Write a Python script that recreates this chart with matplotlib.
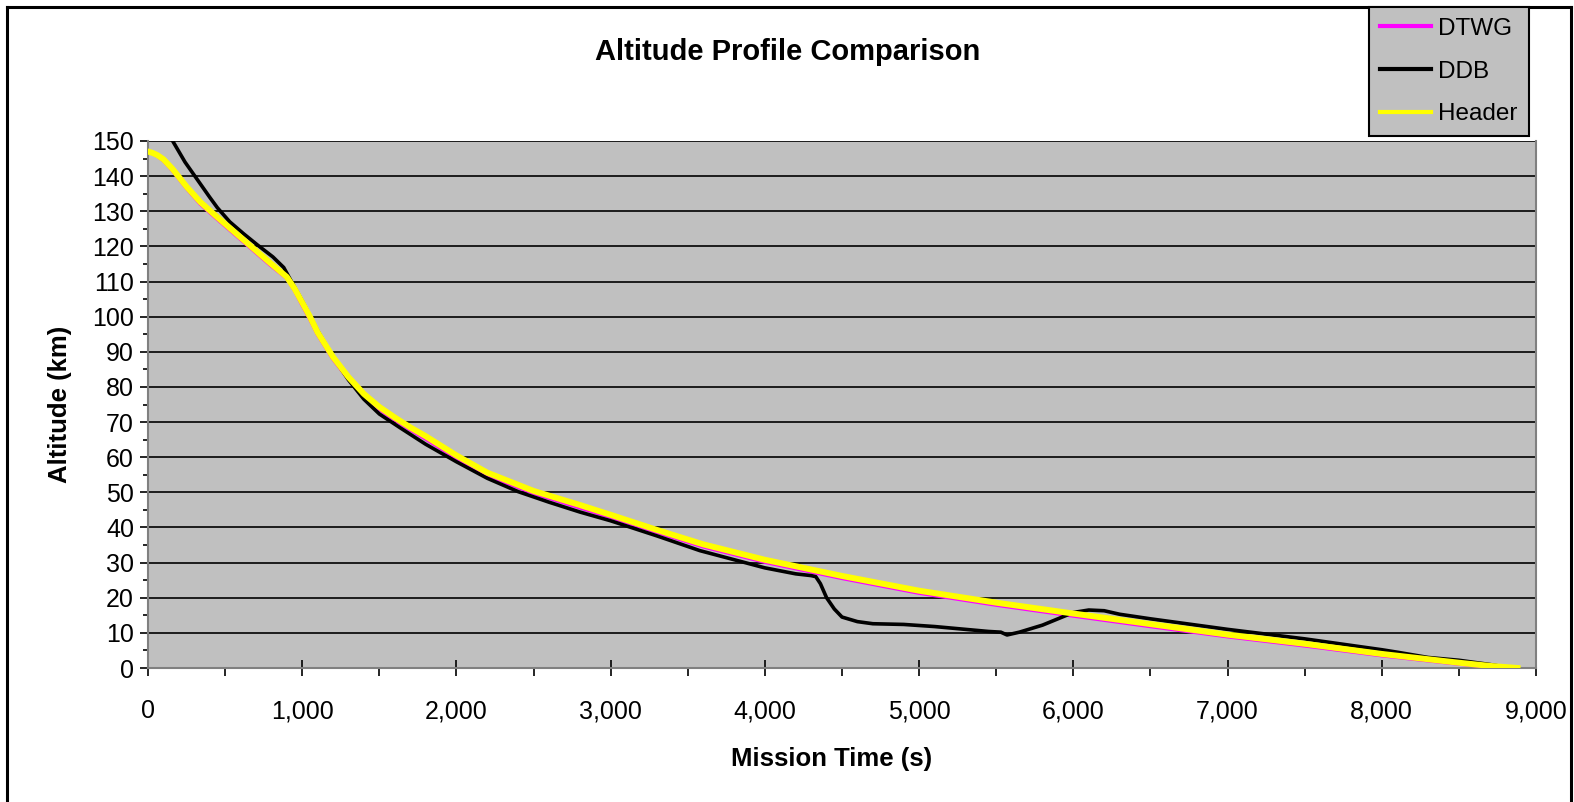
import matplotlib
matplotlib.use("Agg")
import matplotlib.pyplot as plt
from matplotlib.ticker import MultipleLocator, FuncFormatter
from matplotlib.lines import Line2D

plt.rcParams['font.family'] = ['Liberation Sans', 'DejaVu Sans']

# Header (yellow) altitude profile
t_header = [0, 30, 60, 100, 160, 250, 340, 450, 600, 700, 800, 900, 950, 1000, 1050,
            1100, 1200, 1300, 1400, 1500, 1600, 1700, 1800, 2000, 2200, 2500, 2800,
            3000, 3300, 3600, 4000, 4500, 5000, 5500, 6000, 6500, 7000, 7500, 8000,
            8500, 8700, 8880]
alt_header = [147.0, 146.6, 146.0, 144.8, 142.0, 137.0, 132.6, 128.3, 122.6, 118.8,
              115.0, 111.3, 108.0, 104.0, 100.0, 95.5, 88.5, 82.8, 78.0, 74.3, 71.3,
              68.5, 66.0, 60.5, 55.6, 50.4, 46.4, 43.6, 39.3, 35.2, 30.8, 26.2, 22.0,
              18.6, 15.5, 12.5, 9.5, 6.9, 4.0, 1.5, 0.6, 0.0]

# DTWG (magenta) altitude profile
t_dtwg = [0, 30, 60, 100, 160, 250, 340, 450, 600, 700, 800, 900, 950, 1000, 1050,
          1100, 1200, 1300, 1400, 1500, 1600, 1700, 1800, 2000, 2200, 2500, 2800,
          3000, 3300, 3600, 4000, 4500, 5000, 5500, 6000, 6500, 7000, 7500, 8000,
          8500, 8700, 8880]
alt_dtwg = [147.0, 146.5, 145.8, 144.5, 141.6, 136.6, 132.1, 127.8, 122.1, 118.3,
            114.5, 111.0, 107.6, 103.4, 99.4, 95.0, 88.0, 82.3, 77.5, 73.7, 70.7,
            67.9, 65.3, 59.8, 54.9, 49.8, 45.7, 43.0, 38.7, 34.6, 30.2, 25.6, 21.4,
            18.0, 14.9, 11.9, 9.0, 6.4, 3.6, 1.2, 0.4, 0.0]

# DDB (black) altitude profile
t_ddb = [120, 160, 240, 320, 400, 450, 530, 620, 710, 810, 880, 920, 1000, 1100, 1200,
         1300, 1400, 1500, 1634, 1800, 2000, 2200, 2400, 2600, 2800, 3000, 3300, 3579,
         4000, 4200, 4300, 4330, 4360, 4400, 4450, 4500, 4600, 4700, 4900, 5100, 5300,
         5450, 5530, 5570, 5650, 5800, 5900, 6000, 6100, 6200, 6300, 6500, 7000, 7500,
         8000, 8100, 8300, 8500, 8700, 8800]
alt_ddb = [153.0, 150.0, 144.0, 139.0, 134.0, 131.0, 127.0, 123.6, 120.4, 117.0,
           114.0, 110.8, 104.5, 96.0, 88.5, 82.0, 76.5, 72.3, 68.4, 63.7, 58.7, 54.0,
           50.2, 47.2, 44.4, 41.9, 37.6, 33.4, 28.5, 26.8, 26.3, 26.0, 24.0, 20.0,
           16.8, 14.5, 13.2, 12.6, 12.4, 11.8, 11.0, 10.4, 10.2, 9.4, 10.2, 12.2, 14.0,
           15.8, 16.5, 16.3, 15.3, 14.0, 11.0, 8.3, 5.2, 4.5, 3.0, 2.2, 1.0, 0.3]

W, H = 1574, 802
fig = plt.figure(figsize=(W / 100, H / 100), dpi=100)
ax = fig.add_axes([148 / W, 1 - 668 / H, (1536 - 148) / W, (668 - 141) / H])
ax.set_facecolor('#C0C0C0')

ax.plot(t_dtwg, alt_dtwg, color='#FF00FF', lw=3.0, zorder=3)
ax.plot(t_ddb, alt_ddb, color='black', lw=2.6, zorder=4)
ax.plot(t_header, alt_header, color='#FFFF00', lw=4.3, zorder=5)

ax.set_xlim(0, 9000)
ax.set_ylim(0, 150)
ax.xaxis.set_major_locator(MultipleLocator(1000))
ax.xaxis.set_minor_locator(MultipleLocator(500))
ax.yaxis.set_major_locator(MultipleLocator(10))
ax.yaxis.set_minor_locator(MultipleLocator(5))
ax.xaxis.set_major_formatter(FuncFormatter(lambda v, p: f"{int(v):,}"))

ax.grid(axis='y', which='major', color='black', lw=1.2)
ax.set_axisbelow(True)
for s in ax.spines.values():
    s.set_color('#808080')
    s.set_linewidth(1.5)
ax.spines['top'].set_visible(False)

ax.tick_params(axis='x', which='major', direction='inout', length=11, width=1.2,
               labelsize=18, pad=17)
ax.tick_params(axis='x', which='minor', direction='out', length=5.5, width=1.2)
ax.tick_params(axis='y', which='major', direction='out', length=6, width=1.2,
               labelsize=18, pad=4)
ax.tick_params(axis='y', which='minor', direction='out', length=3.5, width=1.2)

fig.text(788 / W, 1 - 52 / H, 'Altitude Profile Comparison', ha='center', va='center',
         fontsize=21, fontweight='bold')
fig.text(832 / W, 1 - 759 / H, 'Mission Time (s)', ha='center', va='center',
         fontsize=18.5, fontweight='bold')
fig.text(60 / W, 1 - 404 / H, 'Altitude (km)', ha='center', va='center',
         fontsize=18.5, fontweight='bold', rotation=90)

# legend
handles = [Line2D([], [], color='#FF00FF', lw=3.0),
           Line2D([], [], color='black', lw=3.0),
           Line2D([], [], color='#FFFF00', lw=3.0)]
leg = fig.legend(handles, ['DTWG', 'DDB', 'Header'], loc='upper left',
                 bbox_to_anchor=(1369 / W, 1 - 7 / H), borderaxespad=0,
                 fontsize=17.5, frameon=True, fancybox=False, handlelength=2.1,
                 handletextpad=0.3, labelspacing=0.85, borderpad=0.45)
leg.get_frame().set_facecolor('#C0C0C0')
leg.get_frame().set_edgecolor('black')
leg.get_frame().set_linewidth(1.5)
leg.get_frame().set_alpha(1)

# outer chart border
for xs, ys in [((7 / W, 7 / W), (0, 1 - 7 / H)),
               ((7 / W, 1571 / W), (1 - 7 / H, 1 - 7 / H)),
               ((1571 / W, 1571 / W), (0, 1 - 7 / H))]:
    fig.add_artist(Line2D(xs, ys, color='black', lw=2.2, transform=fig.transFigure))

fig.savefig('out.png', dpi=100)
